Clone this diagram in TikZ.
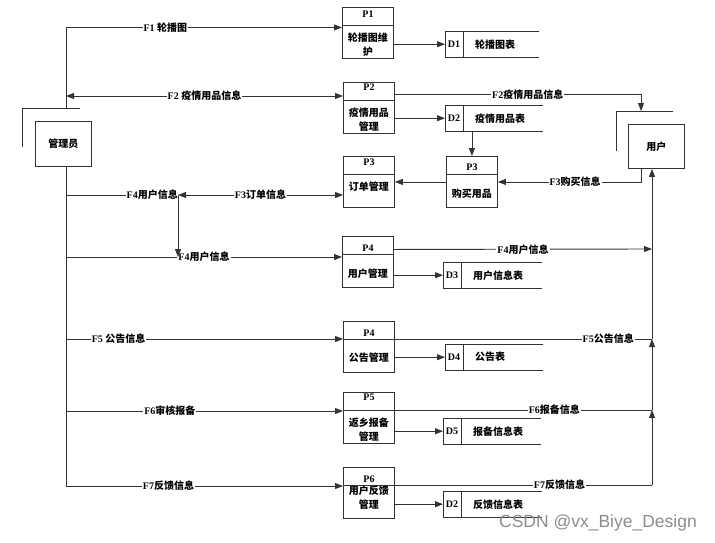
\documentclass[tikz,border=0pt]{standalone}
\usepackage{fontspec}
\setmainfont{Liberation Serif}
\newfontfamily\cjk{Noto Sans CJK SC}
\newfontfamily\wmfont{Liberation Sans}
\newcommand\zh[1]{{\cjk #1}}
\usetikzlibrary{arrows.meta}

\tikzset{
  wire/.style={draw=black!80, line width=0.9pt},
  flow/.style={wire, -{Triangle[length=8pt,width=6pt]}},
  flowboth/.style={wire, {Triangle[length=8pt,width=6pt]}-{Triangle[length=8pt,width=6pt]}},
  txt/.style={font=\bfseries\fontsize{10}{14}\selectfont, inner sep=0pt},
  lbl/.style={txt, fill=white, inner xsep=1pt, inner ysep=1pt},
  box/.style={wire, anchor=north west, minimum width=51pt, minimum height=51pt, inner sep=0pt},
  entity/.style={wire, txt, anchor=north west, minimum width=56pt, minimum height=45pt},
  storebox/.style={anchor=north west, minimum height=26pt, inner sep=0pt}
}

\begin{document}
\begin{tikzpicture}[x=1pt, y=-1pt]
  \useasboundingbox (0,0) rectangle (715,542);

  \newcommand\procbox[7]{%
    \node[box] (#1) at (#2,#3) {};
    \draw[wire] ([yshift=-18pt]#1.north west) -- ([yshift=-18pt]#1.north east);
    \node[txt] (#1-id) at ([yshift=-#4pt]#1.north) {#5};
    \node[txt, align=center] (#1-txt) at ([yshift=-#6pt]#1.north) {#7};
  }
  \newcommand\databox[6]{%
    \node[storebox, minimum width=#4pt] (#1) at (#2,#3) {};
    \draw[wire] (#1.north east) -- (#1.north west) -- (#1.south west) -- (#1.south east);
    \draw[wire] ([xshift=18pt]#1.north west) -- ([xshift=18pt]#1.south west);
    \node[txt] (#1-id) at ([xshift=9pt]#1.west) {#5};
    \node[txt, anchor=west] (#1-txt) at ([xshift=30pt]#1.west) {#6};
  }

  % outside entities
  \node[entity] (adm) at (35,121) {\zh{管理员}};
  \draw[wire] (22,147) -- (22,108) -- (80,108);
  \node[entity, minimum height=44pt] (user) at (628,124) {\zh{用户}};
  \draw[wire] (616,151) -- (616,111) -- (673,111);

  % processes
  \procbox{p1}{342}{7}{7}{P1}{38}{\zh{轮播图维}\\\zh{护}}
  \procbox{p2}{343}{82}{5}{P2}{38}{\zh{疫情用品}\\\zh{管理}}
  \procbox{p3}{343}{156}{6}{P3}{31}{\zh{订单管理}}
  \procbox{p3b}{446}{156}{11}{P3}{38}{\zh{购买用品}}
  \procbox{p4}{342}{236}{12}{P4}{38}{\zh{用户管理}}
  \procbox{p4b}{343}{321}{12}{P4}{37}{\zh{公告管理}}
  \procbox{p5}{343}{392}{5}{P5}{38}{\zh{返乡报备}\\\zh{管理}}
  \procbox{p6}{343}{467}{12}{P6}{31}{\zh{用户反馈}\\\zh{管理}}

  % data stores
  \databox{d1}{445}{31}{94}{D1}{\zh{轮播图表}}
  \databox{d2}{445}{105}{98}{D2}{\zh{疫情用品表}}
  \databox{d3}{443}{262}{99}{D3}{\zh{用户信息表}}
  \databox{d4}{445}{344}{98}{D4}{\zh{公告表}}
  \databox{d5}{443}{418}{98}{D5}{\zh{报备信息表}}
  \databox{d6}{443}{491}{99}{D2}{\zh{反馈信息表}}

  \coordinate (ab) at (66,108);
  \coordinate (t2) at (66,96);
  \coordinate (t4) at (66,195);
  \coordinate (j4) at (178,195);
  \coordinate (t4b) at (66,257);
  \coordinate (t5) at (66,339);
  \coordinate (t6) at (66,411);
  \coordinate (t7) at (66,486);
  \coordinate (ub) at (641,111);
  \coordinate (r4) at (652,249);
  \coordinate (r5) at (652,339);
  \coordinate (r6) at (652,410);
  \coordinate (r7) at (652,485);

  % admin side
  \draw[flow] (ab) |- node[lbl, pos=0.68]{F1 \zh{轮播图}} ([yshift=5.5pt]p1.west);
  \draw[wire] (adm.south -| t7) -- (t7);
  \draw[flowboth] (t2) -- node[lbl]{F2 \zh{疫情用品信息}} (p2.west |- t2);
  \draw[wire] (t4) -- node[lbl, pos=0.77]{F4\zh{用户信息}} (j4);
  \draw[flowboth] (j4) -- node[lbl]{F3\zh{订单信息}} (p3.west |- j4);
  \draw[flow] (t4b) -- node[lbl]{F4\zh{用户信息}} (p4.west |- t4b);
  \draw[flow] (j4) -- (j4 |- t4b);
  \draw[flow] (t5) -- node[lbl, pos=0.19]{F5 \zh{公告信息}} (p4b.west |- t5);
  \draw[flow] (t6) -- node[lbl, pos=0.375]{F6\zh{审核报备}} (p5.west |- t6);
  \draw[flow] (t7) -- node[lbl, pos=0.37]{F7\zh{反馈信息}} (p6.west |- t7);

  % into the stores
  \draw[flow] (p1.east |- d1.west) -- (d1.west);
  \draw[flow] (p2.east |- d2.west) -- (d2.west);
  \draw[flow] (p4.east |- d3.west) -- (d3.west);
  \draw[flow] (p4b.east |- d4.west) -- (d4.west);
  \draw[flow] (p5.east |- d5.west) -- (d5.west);
  \draw[flow] (p6.east |- d6.west) -- (d6.west);

  % user side
  \draw[flow] ([yshift=13.5pt]p2.east) -| node[lbl, pos=0.27]{F2\zh{疫情用品信息}} (ub);
  \draw[flow] (user.south -| ub) |- node[lbl, pos=0.73]{F3\zh{购买信息}} (p3b.east);
  \draw[flow] (p3b.west) -- (p3.east);
  \draw[flow] (d2.south -| p3b) -- (p3b.north);
  \draw[flow] ([yshift=12.5pt]p4.east) -- node[lbl]{F4\zh{用户信息}} (r4);
  \draw[wire] (p4b.east |- t5) -- node[lbl, pos=0.83]{F5\zh{公告信息}} (r5);
  \draw[wire] (p5.east |- r6) -- node[lbl, pos=0.62]{F6\zh{报备信息}} (r6);
  \draw[wire] (p6.east |- r7) -- node[lbl, pos=0.64]{F7\zh{反馈信息}} (r7);
  \draw[flow] (r7) -- (r6);
  \draw[flow] (r6) -- (r5);
  \draw[flow] (r5) -- (user.south -| r5);

  \node[font=\wmfont\fontsize{17.5}{18}\selectfont, text=black!45] (wm) at (598,523) {CSDN @vx\_Biye\_Design};

\end{tikzpicture}
\end{document}
